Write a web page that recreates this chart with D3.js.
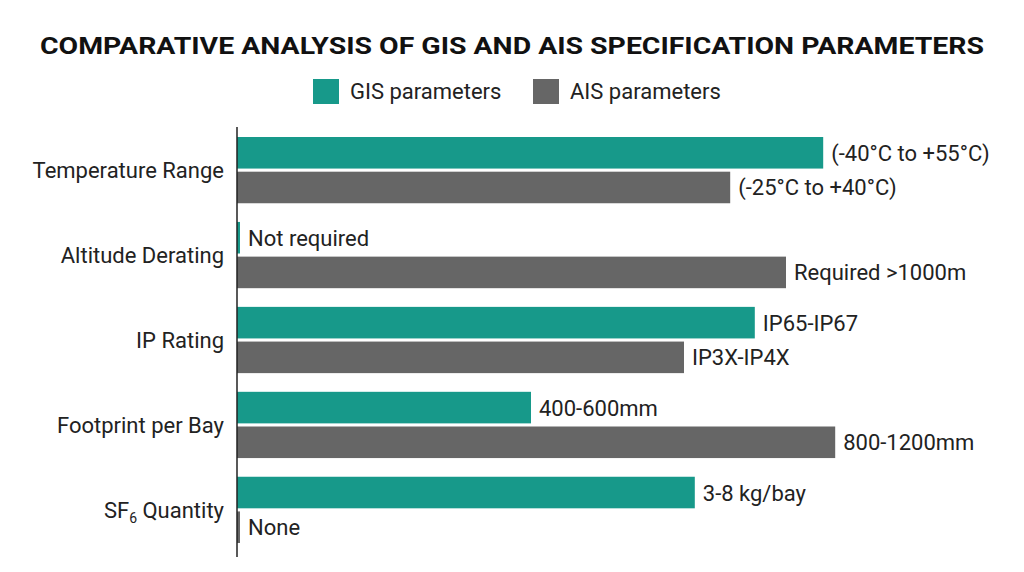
<!DOCTYPE html>
<html><head><meta charset="utf-8">
<script src="https://cdn.jsdelivr.net/npm/d3@7"></script>
<style>body{margin:0;background:#fff}</style></head>
<body><svg id="c" width="1024" height="572"></svg>
<script>
const categories=["Temperature Range","Altitude Derating","IP Rating","Footprint per Bay","SF6 Quantity"];
const gisValues=[97.7,0.5,86.3,49,76.3];
const aisValues=[82.2,91.5,74.5,99.7,0.5];
const gisLabels=["(-40°C to +55°C)","Not required","IP65-IP67","400-600mm","3-8 kg/bay"];
const aisLabels=["(-25°C to +40°C)","Required >1000m","IP3X-IP4X","800-1200mm","None"];
const seriesNames=["GIS parameters","AIS parameters"];
const colors=["#17998a","#666666"];
const svg=d3.select("#c");
svg.append("text").attr("x",512).attr("y",54).attr("text-anchor","middle")
 .attr("font-family","Roboto,sans-serif").attr("font-weight","bold").attr("font-size",24)
 .attr("textLength",944).attr("lengthAdjust","spacingAndGlyphs").attr("fill","#111")
 .text("COMPARATIVE ANALYSIS OF GIS AND AIS SPECIFICATION PARAMETERS");
const lx=[313,533];
seriesNames.forEach((n,i)=>{
 svg.append("rect").attr("x",lx[i]).attr("y",79).attr("width",26).attr("height",25).attr("fill",colors[i]);
 svg.append("text").attr("x",lx[i]+37).attr("y",99).attr("font-family","Roboto,sans-serif").attr("font-size",22).attr("fill","#222").text(n);
});
const x=d3.scaleLinear().domain([0,100]).range([237,837]);
const y=d3.scaleBand().domain(categories).range([137,543]).paddingInner(0.22).paddingOuter(0);
const sub=d3.scaleBand().domain([0,1]).range([0,y.bandwidth()]).paddingInner(0.09);
categories.forEach((c,i)=>{
 [gisValues[i],aisValues[i]].forEach((v,j)=>{
  const yy=y(c)+sub(j);
  svg.append("rect").attr("x",x(0)).attr("y",yy).attr("width",x(v)-x(0)).attr("height",sub.bandwidth()).attr("fill",colors[j]);
  svg.append("text").attr("x",x(v)+8).attr("y",yy+sub.bandwidth()/2+8).attr("font-family","Roboto,sans-serif")
   .attr("font-size",22).attr("fill","#222").text(j?aisLabels[i]:gisLabels[i]);
 });
 const t=svg.append("text").attr("x",224).attr("y",y(c)+y.bandwidth()/2+8).attr("text-anchor","end")
  .attr("font-family","Roboto,sans-serif").attr("font-size",22).attr("fill","#222");
 if(c==="SF6 Quantity"){t.append("tspan").text("SF");t.append("tspan").attr("font-size",14).attr("dy",5).text("6");t.append("tspan").attr("dy",-5).text(" Quantity");}
 else t.text(c);
});
svg.append("line").attr("x1",237).attr("x2",237).attr("y1",127).attr("y2",557).attr("stroke","#222").attr("stroke-width",1.5);
</script></body></html>
